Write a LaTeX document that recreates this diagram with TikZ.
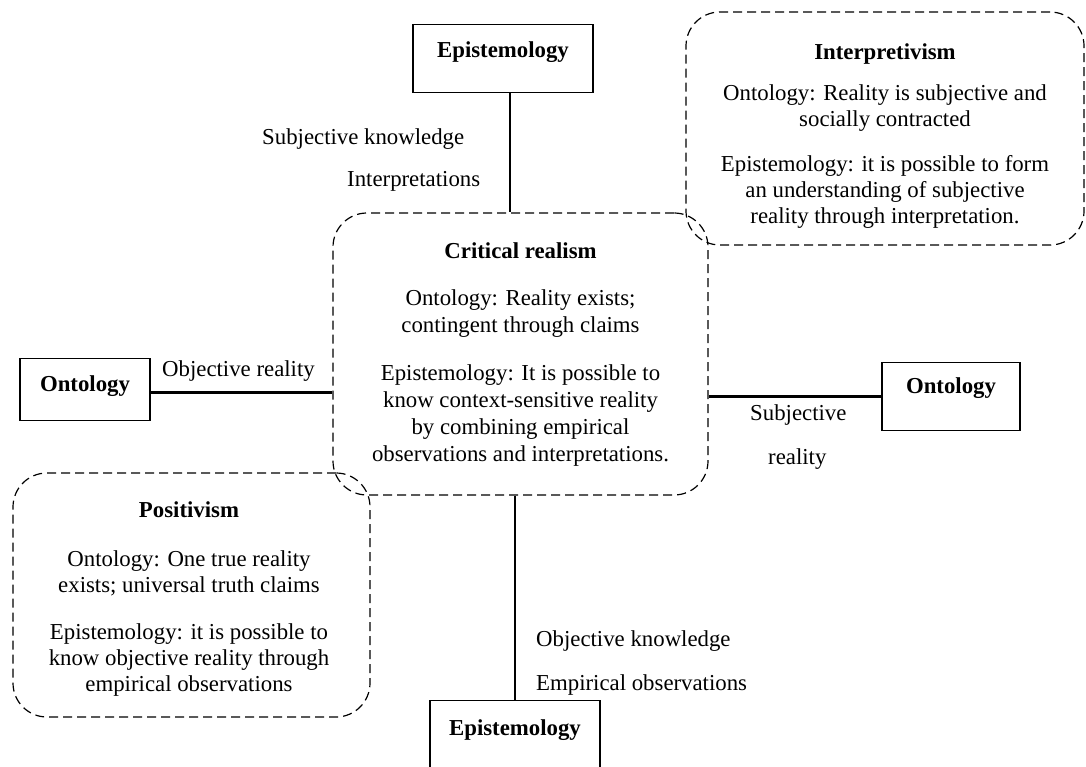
\documentclass[tikz,border=0pt]{standalone}
\usepackage{fontspec}
\setmainfont{Liberation Serif}
\usetikzlibrary{positioning}

\begin{document}
\begin{tikzpicture}[x=1pt, y=-1pt, font=\fontsize{22.8}{26}\selectfont,
  frame/.style={draw, line width=1.3pt, inner sep=0pt, font=\fontsize{22.8}{26}\selectfont\bfseries},
  paradigm/.style={draw, line width=1.2pt, dash pattern=on 9pt off 5pt, rounded corners=34pt, inner sep=0pt},
  body/.style={align=center, inner sep=0pt},
  link/.style={line width=2.6pt},
  tag/.style={anchor=base west, inner sep=0pt}]
\useasboundingbox (0,0) rectangle (1086,767);
% paradigm boxes
\node[paradigm, minimum width=398, minimum height=233] (interp) at (885,128.5) {};
\node[paradigm, minimum width=375, minimum height=282] (crit) at (520.5,354) {};
\node[paradigm, minimum width=357, minimum height=244] (posit) at (191.5,595) {};
\node[body, anchor=north] (interpText) at (885,43) {\textbf{Interpretivism}\\[15pt]Ontology: Reality is subjective and\\socially contracted\\[19pt]Epistemology: it is possible to form\\an understanding of subjective\\reality through interpretation.};
\node[body, anchor=north, font=\fontsize{22.8}{27}\selectfont] (critText) at (520.5,242) {\textbf{Critical realism}\\[20pt]Ontology: Reality exists;\\contingent through claims\\[21pt]Epistemology: It is possible to\\know context-sensitive reality\\by combining empirical\\observations and interpretations.};
\node[body, anchor=north] (positText) at (189,501) {\textbf{Positivism}\\[23pt]Ontology: One true reality\\exists; universal truth claims\\[21pt]Epistemology: it is possible to\\know objective reality through\\empirical observations};
% dimension boxes
\node[frame, anchor=north, minimum width=180, text height=33pt, text depth=35pt] (epiT) at (503,24) {Epistemology};
\node[frame, anchor=north, minimum width=130, text height=33pt, text depth=29pt] (ontL) at (85,358) {Ontology};
\node[frame, anchor=north, minimum width=138, text height=31pt, text depth=37pt] (ontR) at (951,362) {Ontology};
\node[frame, anchor=north, minimum width=170, text height=35pt, text depth=45pt] (epiB) at (515,700) {Epistemology};
% connectors
\draw[link] ([xshift=7pt]epiT.south) -- ([xshift=7pt]epiT.south |- crit.north);
\draw[link] ([yshift=-3pt]ontL.east) -- ([yshift=-3pt]ontL.east -| crit.west);
\draw[link] (ontR.west) -- (ontR.west -| crit.east);
\draw[link] (epiB.north) -- (epiB.north |- crit.south);
% labels
\node[tag] (subjKnow) at (262,145) {Subjective knowledge};
\node[tag] (interpLab) at (347,187) {Interpretations};
\node[tag] (objReal) at (162,376) {Objective reality};
\node[tag] (subjReal) at (750,420) {Subjective};
\node[tag] (subjReal2) at (768,464) {reality};
\node[tag] (objKnow) at (536,646) {Objective knowledge};
\node[tag] (empObs) at (536,690) {Empirical observations};
\end{tikzpicture}
\end{document}
